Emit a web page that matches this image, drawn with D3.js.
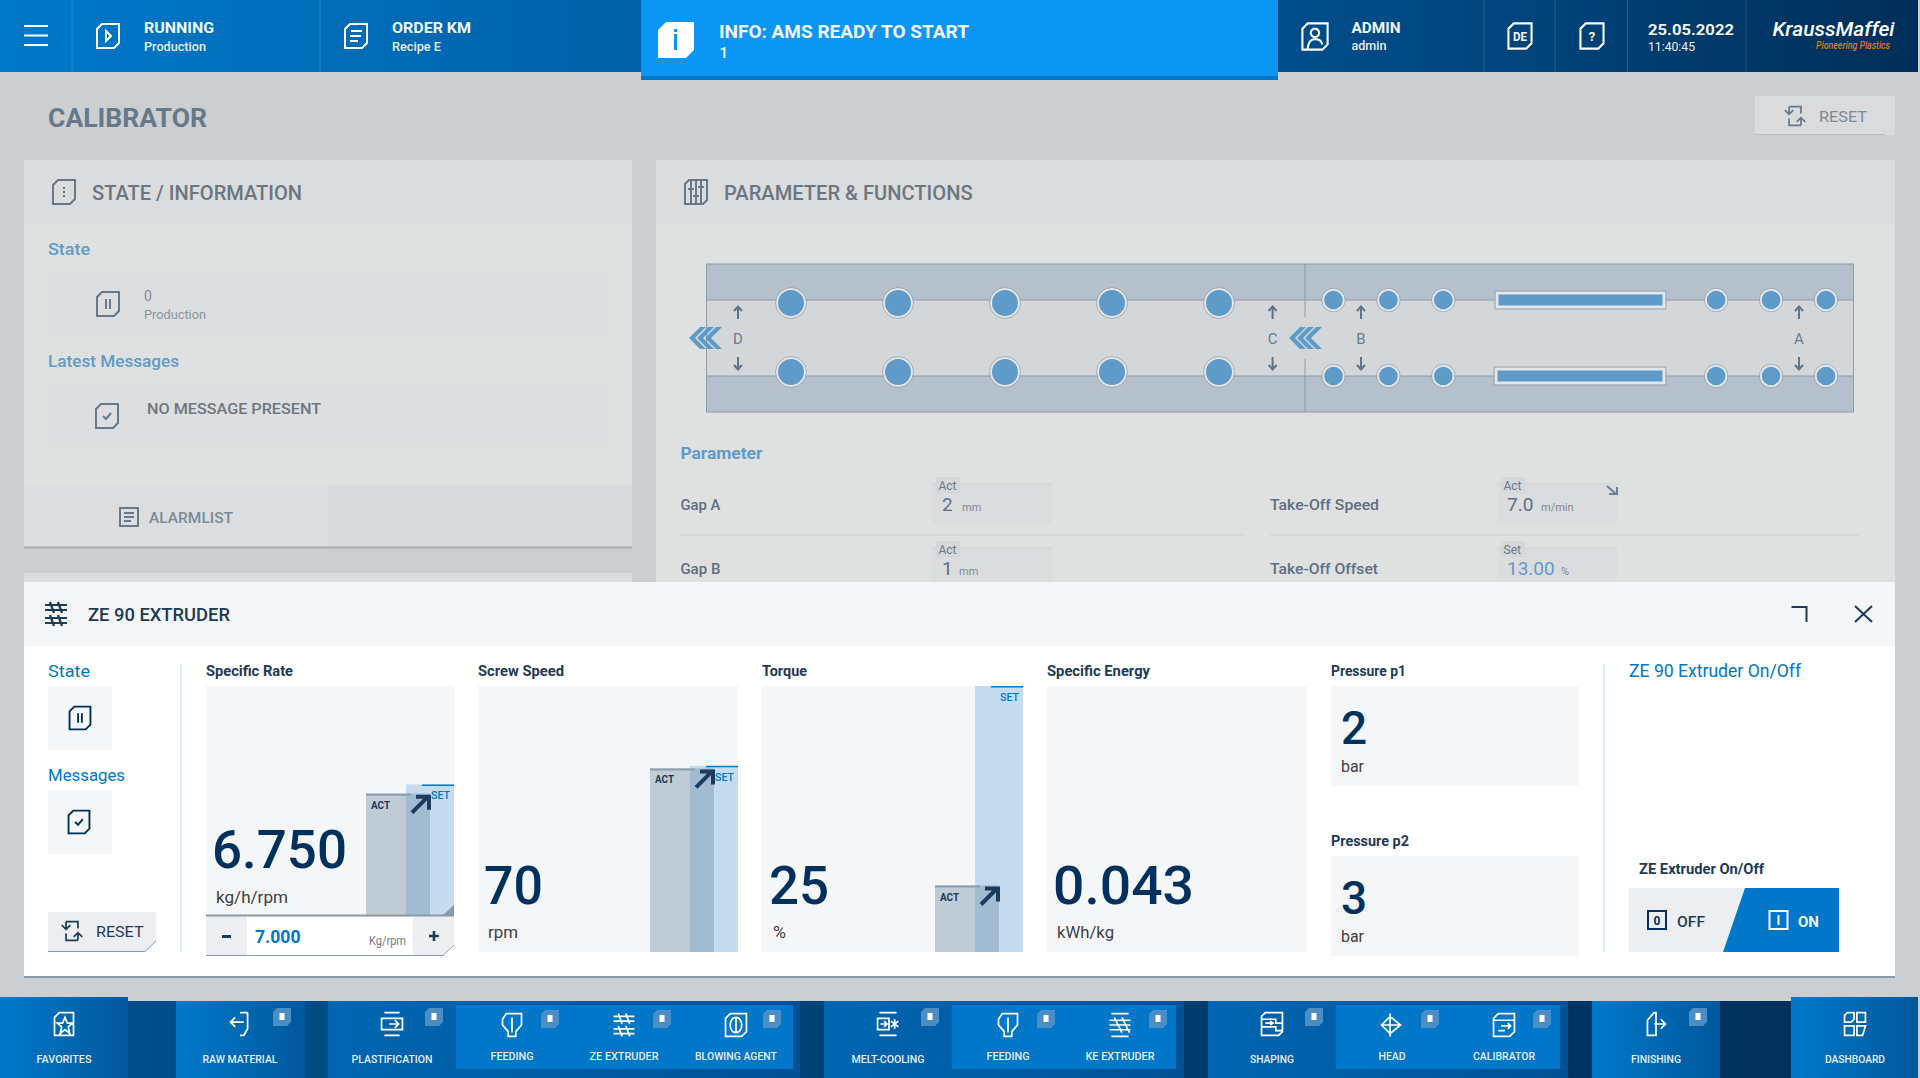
<!DOCTYPE html>
<html>
<head>
<meta charset="utf-8">
<title>Calibrator</title>
<script src="https://cdn.jsdelivr.net/npm/d3@7"></script>
<style>
  html, body { margin: 0; padding: 0; background: #cbcfd2; overflow: hidden; }
  text { font-family: Roboto, "Noto Sans", sans-serif; }
</style>
</head>
<body>
<script>
// values
var gaugeNames = ["Specific Rate", "Screw Speed", "Torque", "Specific Energy"];
var gaugeValues = ["6.750", "70", "25", "0.043"];
var gaugeUnits = ["kg/h/rpm", "rpm", "%", "kWh/kg"];
var gaugeAct = [53, 69, 25, null];   // bar height, % of scale
var gaugeSet = [57, 70, 100, null];
var pressureNames = ["Pressure p1", "Pressure p2"];
var pressureValues = ["2", "3"];
var pressureUnit = "bar";
var paramNames = ["Gap A", "Gap B", "Take-Off Speed", "Take-Off Offset"];
var paramKinds = ["Act", "Act", "Act", "Set"];
var paramValues = ["2", "1", "7.0", "13.00"];
var paramUnits = ["mm", "mm", "m/min", "%"];
var gapLabels = ["D", "C", "B", "A"];
var navLabels = ["FAVORITES", "RAW MATERIAL", "PLASTIFICATION", "FEEDING", "ZE EXTRUDER", "BLOWING AGENT", "MELT-COOLING",
  "FEEDING", "KE EXTRUDER", "SHAPING", "HEAD", "CALIBRATOR", "FINISHING", "DASHBOARD"];
var bigRollers = [0, 1, 2, 3, 4];
var smallRollers = [0, 1, 2, 6.97, 7.97, 8.97];

var BLUE = "#0077c8", NAVY = "#00315c", INK = "#1d3a56", DIM = "#66788a", DIMBLUE = "#5f9bc8";

var svg = d3.select("body").append("svg").attr("width", 1920).attr("height", 1078).style("display", "block");
var defs = svg.append("defs");

function gradient(id, stops) {
  var g = defs.append("linearGradient").attr("id", id);
  stops.forEach(function(s) { g.append("stop").attr("offset", s[0]).attr("stop-color", s[1]); });
}
gradient("topGrad", [[0, "#0079ca"], [0.33, "#0062a9"], [0.67, "#004e8b"], [0.8, "#00447a"], [1, "#002e58"]]);
gradient("navGrad", [[0, "#00508e"], [1, "#002f5a"]]);
gradient("btnGrad", [[0, "#0079ca"], [1, "#00589c"]]);
gradient("groupGrad", [[0, "#0066b2"], [1, "#005196"]]);

function rect(p, x, y, w, h, fill) {
  return p.append("rect").attr("x", x).attr("y", y).attr("width", w).attr("height", h).attr("fill", fill);
}
function line(p, x1, y1, x2, y2, stroke, sw) {
  return p.append("line").attr("x1", x1).attr("y1", y1).attr("x2", x2).attr("y2", y2).attr("stroke", stroke).attr("stroke-width", sw || 1);
}
function label(p, str, x, y, size, weight, fill, w, anchor) {
  var t = p.append("text").attr("x", x).attr("y", y).attr("font-size", size).attr("font-weight", weight).attr("fill", fill).text(str);
  if(w) t.attr("textLength", w).attr("lengthAdjust", "spacingAndGlyphs");
  if(anchor) t.attr("text-anchor", anchor);
  return t;
}
//doc shape with the two cut corners used by nearly all icons
function chamfer(x, y, w, h, c) {
  return "M" + (x + c) + "," + y + "H" + (x + w) + "V" + (y + h - c) + "L" + (x + w - c) + "," + (y + h) + "H" + x + "V" + (y + c) + "Z";
}

var iconPaths = {
  play: chamfer(-11, -12, 22, 24, 5) + "M-2,-5L3,0L-2,5Z",
  doc: chamfer(-11, -12, 22, 24, 5) + "M-5,-5H6M-6,0H5M-6,5H2",
  user: chamfer(-12, -12, 24, 25, 5) + "M0,-7a4,4 0 1,1 -0.1,0M-7,12C-6,4 -3,3 0,3C3,3 6,4 7,8",
  blank: chamfer(-11, -12, 22, 24, 5),
  dots: chamfer(-11, -12, 22, 24, 5) + "M0,-5V-3M0,-1V1M0,3V5",
  params: chamfer(-11, -12, 22, 24, 4) + "M-5,-12V12M0,-12V12M5,-12V12M-8,-3H-2M-3,4H3M2,-5H8",
  pause: chamfer(-11, -12, 22, 24, 5) + "M-2,-5V5M2,-5V5",
  check: chamfer(-11, -12, 22, 24, 5) + "M-4,0L-1,3L4,-3",
  list: "M-9,-9H9V9H-9ZM-5,-4H5M-5,0H5M-5,4H2",
  reset: "M-7,-11H7V-3M7,11H-7V3M-7,-11V-2M-12,-7L-7,-2L-2,-7M7,11V2M2,7L7,2L12,7",
  screws: "M-11,-9H11M-11,-4H11M-11,4H11M-11,9H11M-6,-12L-2,-1M2,-12L6,-1M-6,1L-2,12M2,1L6,12",
  star: "M-10,-7L-5,-12H10V12H-10ZM1,-7L3.5,-1H9L4.5,3L6,10L1,6L-4,10L-2.5,3L-7,-1H-1.5Z",
  raw: "M8,-12V5L4,12H0M8,-12H0M-10,-2H4M-5,-7L-10,-2L-5,3",
  plast: "M-8,-12H8M-8,12H8M-11,-6H11V6H-11ZM-3,0H7M3,-4L7,0L3,4",
  funnel: "M-6,-12H10V0L4,7V12H-4V7L-10,0V-6ZM0,-8V8",
  blow: chamfer(-11, -12, 22, 24, 5) + "M0,-8a6,8 0 1,1 -0.1,0M0,-8V8",
  melt: "M-9,-12H9M-9,12H9M-11,-6H1V6H-11ZM-8,0H-1M-4,-3L-1,0L-4,3M7,-5V5M3,-3L11,3M3,3L11,-3",
  ke: "M-9,-12H9M-9,12H9M-11,-5H11M-11,0H11M-11,5H11M-6,-8L2,8M2,-8L10,8",
  shaping: chamfer(-11, -12, 22, 24, 4) + "M-11,-5H4V-1H11M-11,3H4V7H11M-7,-1H1M-2,-3L1,-1L-2,1",
  head: "M-2,-12V12M-2,-9L-11,0L-2,9M-2,-9L9,0L-2,9M-11,0H9",
  calib: chamfer(-11, -12, 22, 24, 5) + "M-11,-5H11M-3,1H7M4,-2L7,1L4,4M-6,6H1",
  finish: "M-2,-12L-9,-4V12H0V-12ZM-2,0H10M5,-5L10,0L5,5",
  dash: chamfer(-11, -12, 10, 10, 3) + "M2,-12H11V-2H2ZM-11,2H-1V12H-11ZM2,2H11L8,12H2Z"
};
function icon(p, name, cx, cy, color, scale, sw) {
  return p.append("path").attr("d", iconPaths[name]).attr("fill", "none").attr("stroke", color)
    .attr("stroke-width", sw || 2).attr("transform", "translate(" + cx + "," + cy + ") scale(" + (scale || 1) + ")");
}

function drawTopBar() {
  var g = svg.append("g");
  rect(g, 0, 0, 1918, 72, "url(#topGrad)");
  //dividers between the header cells
  [72, 320, 1484, 1555, 1627.5, 1746].forEach(function(x) { line(g, x, 0, x, 72, "#fff", 1).attr("opacity", 0.14); });
  [26, 35.5, 45].forEach(function(y) { line(g, 24, y, 48, y, "#fff", 2); });

  icon(g, "play", 108, 36, "#fff", 1, 2);
  label(g, "RUNNING", 144, 33, 15, 700, "#f2f6fa", 70);
  label(g, "Production", 144, 51, 13, 500, "#e8eef5", 62);
  icon(g, "doc", 356, 36, "#fff", 1, 2);
  label(g, "ORDER KM", 392, 33, 15, 700, "#f2f6fa", 79);
  label(g, "Recipe E", 392, 51, 13, 500, "#e8eef5", 49);

  //info banner hangs below the bar
  rect(g, 641, 0, 637, 80, "#0c96f3");
  rect(g, 641, 76, 637, 4, "#0077c8");
  g.append("path").attr("d", chamfer(658, 22, 36, 36, 8)).attr("fill", "#fff");
  rect(g, 674, 34, 3, 16, "#0c96f3");
  rect(g, 674, 29, 3, 3, "#0c96f3");
  label(g, "INFO: AMS READY TO START", 719, 38, 18, 700, "#f2f8fd", 250);
  label(g, "1", 719.5, 58, 15, 500, "#f2f8fd");

  icon(g, "user", 1315, 36, "#fff", 1.05, 2);
  label(g, "ADMIN", 1351.5, 33, 15, 700, "#f2f6fa", 49);
  label(g, "admin", 1351.5, 50, 13, 500, "#e8eef5", 35);
  icon(g, "blank", 1520, 36, "#fff", 1.05, 2);
  label(g, "DE", 1520, 41, 12, 700, "#fff", 14, "middle");
  icon(g, "blank", 1592, 36, "#fff", 1.05, 2);
  label(g, "?", 1592, 41, 13, 700, "#fff", null, "middle");
  label(g, "25.05.2022", 1648, 35, 15, 700, "#f2f6fa", 86);
  label(g, "11:40:45", 1648, 51, 12.5, 400, "#e8eef5", 47);
  label(g, "KraussMaffei", 1772.5, 36, 20, 500, "#fff", 122).attr("font-style", "italic");
  label(g, "Pioneering Plastics", 1816, 49, 10.5, 500, "#e07b00", 74).attr("font-style", "italic");
}

function drawPage() {
  var g = svg.append("g");
  label(g, "CALIBRATOR", 48, 127, 26, 700, DIM, 159);

  rect(g, 1755, 96, 140, 39, "#d9dbdd");
  line(g, 1755, 134.5, 1885, 134.5, "#b6bdc4", 1);
  icon(g, "reset", 1795, 116, DIM, 0.85, 2);
  label(g, "RESET", 1819, 122, 15, 400, "#7b8a99", 48);

  //left panel
  rect(g, 24, 160, 608, 388, "#dfe0e0");
  rect(g, 24, 160, 608, 64, "#dadcde");
  icon(g, "dots", 64, 192, DIM, 1, 2);
  label(g, "STATE / INFORMATION", 92, 200, 20, 500, "#6c7680", 210);
  label(g, "State", 48, 255, 17, 500, DIMBLUE, 42);
  rect(g, 48, 272, 560, 64, "#dcdedf");
  icon(g, "pause", 108, 304, DIM, 1, 2);
  label(g, "0", 144, 301, 14, 400, "#7f8b96");
  label(g, "Production", 144, 319, 13, 400, "#8a949e", 62);
  label(g, "Latest Messages", 48, 367, 17, 500, DIMBLUE, 131);
  rect(g, 48, 384, 560, 63, "#dcdedf");
  icon(g, "check", 107, 416, DIM, 1, 2);
  label(g, "NO MESSAGE PRESENT", 147, 414, 15, 500, "#6c7680", 174);
  rect(g, 24, 485, 608, 63, "#d8dadc");
  rect(g, 24, 485, 304, 63, "#dcddde");
  line(g, 24, 547.5, 632, 547.5, "#a5adb5", 2);
  icon(g, "list", 129, 517, DIM, 1, 2);
  label(g, "ALARMLIST", 149, 523, 14, 500, "#7b8a99", 84);
  rect(g, 24, 573, 608, 12, "#dadcde");

  //right panel
  rect(g, 656, 160, 1239, 430, "#dfe0e0");
  rect(g, 656, 160, 1239, 64, "#dadcde");
  icon(g, "params", 696, 192, DIM, 1, 2);
  label(g, "PARAMETER & FUNCTIONS", 724, 200, 20, 500, "#6c7680", 248.6);

  drawCalibrator(g);
  drawParams(g);
}

function drawCalibrator(p) {
  var g = p.append("g");
  var LINE = "#8e9ba8", ROLL = DIMBLUE;
  rect(g, 706.5, 264, 1147, 148, "#b4c0cc").attr("stroke", LINE).attr("stroke-width", 1);
  rect(g, 707, 300, 1146, 76, "#d3d7da");
  line(g, 707, 300, 1853, 300, LINE);
  line(g, 707, 376, 1853, 376, LINE);
  line(g, 1305, 264, 1305, 317, LINE);
  line(g, 1305, 359, 1305, 412, LINE);

  var xBig = d3.scaleLinear().domain([0, 4]).range([791, 1219]);
  var xSmall = d3.scaleLinear().domain([0, 1]).range([1333.5, 1388.4]);

  function rollers(data, x, ys, r) {
    ys.forEach(function(y) {
      g.selectAll(null).data(data).enter().append("circle")
        .attr("cx", x).attr("cy", y).attr("r", r - 1.5)
        .attr("fill", ROLL).attr("stroke", "#e4e6e8").attr("stroke-width", 2);
      g.selectAll(null).data(data).enter().append("circle")
        .attr("cx", x).attr("cy", y).attr("r", r)
        .attr("fill", "none").attr("stroke", "#9aa5af").attr("stroke-width", 0.8);
    });
  }
  rollers(bigRollers, xBig, [303, 372], 15.5);
  rollers(smallRollers, xSmall, [300, 376], 11.8);

  [[1497, 293, 167], [1496, 369, 168]].forEach(function(b) {
    rect(g, b[0], b[1], b[2], 14, ROLL).attr("stroke", "#e4e6e8").attr("stroke-width", 3);
    rect(g, b[0] - 2, b[1] - 2, b[2] + 4, 18, "none").attr("stroke", "#98a4b0").attr("stroke-width", 1);
  });

  //flow direction chevrons
  [689, 1289].forEach(function(x0) {
    [0, 8, 16].forEach(function(dx) {
      var x = x0 + dx;
      g.append("path").attr("d", "M" + (x + 11) + ",327H" + (x + 17) + "L" + (x + 6) + ",338L" + (x + 17) + ",349H" + (x + 11) + "L" + x + ",338Z")
        .attr("fill", ROLL);
    });
  });

  var gapX = d3.scaleOrdinal().domain(gapLabels).range([738, 1272.6, 1361, 1799]);
  gapLabels.forEach(function(d) {
    var x = gapX(d);
    var a = "M" + x + ",319V307M" + (x - 4) + ",311L" + x + ",306.5L" + (x + 4) + ",311";
    var b = "M" + x + ",357V369M" + (x - 4) + ",365L" + x + ",369.5L" + (x + 4) + ",365";
    g.append("path").attr("d", a + b).attr("fill", "none").attr("stroke", "#5f7488").attr("stroke-width", 2);
    label(g, d, x, 344, 15, 400, "#6a7d8f", null, "middle");
  });
}

function drawParams(p) {
  var g = p.append("g");
  label(g, "Parameter", 680.4, 459, 17, 700, DIMBLUE, 82);
  var nameW = [40, 40, 109, 108];
  paramNames.forEach(function(name, i) {
    var col = i < 2 ? 0 : 1, row = i % 2;
    var y = row * 64;
    var nameX = col ? 1270 : 680.4, fx = col ? 1497 : 932;
    label(g, name, nameX, 510 + y, 15, 500, "#5d6f80", nameW[i]);
    rect(g, fx, 484 + y, 120, 39, "#dbdcde");
    line(g, fx, 484 + y, fx + 120, 484 + y, "#d0d3d6", 1);
    rect(g, fx + 4, 477 + y, 24, 16, "#d5d8da");
    label(g, paramKinds[i], fx + 6.5, 490 + y, 12, 400, "#6a7a8a");
    var isSet = paramKinds[i] == "Set";
    label(g, paramValues[i], fx + 10, 511 + y, 19, 400, isSet ? DIMBLUE : "#5d6f80");
    var unitX = [962, 959, 1541, 1561][i];
    label(g, paramUnits[i], unitX, 511 + y, 11, 400, "#7f8a95");
  });
  line(g, 680, 535, 1246, 535, "#d3d6d8", 1.5);
  line(g, 1270, 535, 1859, 535, "#d3d6d8", 1.5);
  g.append("path").attr("d", "M1607,486L1616,494M1609,494H1617V487").attr("fill", "none").attr("stroke", "#6d8093").attr("stroke-width", 2);
}

function drawGauge(p, i, box) {
  var g = p.append("g");
  label(g, gaugeNames[i], box.x, 676, 14.5, 700, INK, box.titleW);
  rect(g, box.x, 686, box.w, box.bottom == 915 ? 229 : 266, "#f5f6f8");
  if(gaugeAct[i] != null) {
    var y = d3.scaleLinear().domain([0, 100]).range([box.bottom, 686]);
    var right = box.x + box.w;
    var actL = right - 88, setL = right - 48;
    var actTop = y(gaugeAct[i]), setTop = y(gaugeSet[i]);
    rect(g, setL, setTop, 48, box.bottom - setTop, "#c5dcef");
    rect(g, actL, actTop, 64, box.bottom - actTop, "#c0ccd5");
    var overlapTop = Math.max(actTop, setTop);
    rect(g, setL, overlapTop, 24, box.bottom - overlapTop, "#a1bbd0");
    rect(g, actL, actTop, 45, 2, "#8b9cac");
    rect(g, right - 32, setTop, 32, 1.5, BLUE);
    label(g, "ACT", actL + 5, actTop + 15, 11, 700, INK, 19);
    label(g, "SET", right - 23, setTop + 15, 11, 500, BLUE, 19);
    var ax = actL + 44, ay = actTop + 1;
    g.append("path").attr("d", "M" + (ax + 2) + "," + (ay + 18) + "L" + (ax + 17) + "," + (ay + 3) + "M" + (ax + 6) + "," + (ay + 2) + "H" + (ax + 19) + "V" + (ay + 15))
      .attr("fill", "none").attr("stroke", "#1d3a5f").attr("stroke-width", 4);
  }
  label(g, gaugeValues[i], box.x + box.vx, box.valueY, 53, 500, NAVY, box.valueW);
  label(g, gaugeUnits[i], box.x + box.ux, box.unitY, 17, 400, "#3f3f42", box.unitW);
}

function drawPopup() {
  var g = svg.append("g");
  rect(g, 24, 582, 1871, 396, "#fff");
  rect(g, 24, 582, 1871, 64, "#f5f6f8");
  rect(g, 24, 976, 1871, 2, "#8a9aa8");
  icon(g, "screws", 56, 614, INK, 1, 2.2);
  label(g, "ZE 90 EXTRUDER", 88, 621, 18, 500, INK, 142);
  g.append("path").attr("d", "M1791.5,607H1806.5V622").attr("fill", "none").attr("stroke", INK).attr("stroke-width", 2);
  g.append("path").attr("d", "M1855,606L1872,622M1872,606L1855,622").attr("fill", "none").attr("stroke", INK).attr("stroke-width", 2);

  label(g, "State", 48, 677, 16, 400, BLUE, 42);
  rect(g, 48, 686, 64, 64, "#f5f6f8");
  icon(g, "pause", 80, 718, NAVY, 0.95, 2);
  label(g, "Messages", 48, 781, 16, 400, BLUE, 77);
  rect(g, 48, 790, 64, 64, "#f5f6f8");
  icon(g, "check", 79, 822, NAVY, 0.95, 2);
  g.append("path").attr("d", "M48,912H156V941L145,952H48Z").attr("fill", "#eceef2");
  g.append("path").attr("d", "M48,951.5H145L156,941").attr("fill", "none").attr("stroke", "#8a9aa8").attr("stroke-width", 1);
  icon(g, "reset", 72, 931, INK, 0.85, 2);
  label(g, "RESET", 96, 937, 15, 400, INK, 47.5);
  rect(g, 180, 664, 2, 288, "#dcebf6");
  rect(g, 1603, 664, 2, 288, "#dcebf6");

  var boxes = [
    { x: 206, w: 248, bottom: 915, titleW: 87, vx: 6, valueY: 868, valueW: 135, ux: 10, unitY: 903, unitW: 72 },
    { x: 478, w: 260, bottom: 952, titleW: 86, vx: 6, valueY: 904, valueW: 59, ux: 10, unitY: 938, unitW: 30 },
    { x: 762, w: 261, bottom: 952, titleW: 45, vx: 7, valueY: 904, valueW: 60, ux: 11, unitY: 938, unitW: 13 },
    { x: 1047, w: 260, bottom: 952, titleW: 103, vx: 6, valueY: 904, valueW: 141, ux: 10, unitY: 938, unitW: 57 }
  ];
  gaugeNames.forEach(function(d, i) { drawGauge(g, i, boxes[i]); });

  //small triangle + stepper under specific rate
  g.append("path").attr("d", "M443,915L454,905V915Z").attr("fill", "#8a9aa8");
  g.append("path").attr("d", "M206,915H454V944L443,955H206Z").attr("fill", "#eceef2");
  rect(g, 247, 917, 166, 38, "#fff");
  rect(g, 206, 914.5, 248, 2, "#8a9aa8");
  g.append("path").attr("d", "M206,955.5H443L454,945").attr("fill", "none").attr("stroke", "#8a9aa8").attr("stroke-width", 1);
  rect(g, 222, 935, 9, 3, INK);
  g.append("path").attr("d", "M429,936H439M434,931V941").attr("stroke", INK).attr("stroke-width", 2.6);
  label(g, "7.000", 255, 943, 19, 700, BLUE, 45.5);
  label(g, "Kg/rpm", 369, 945, 12, 400, "#777c82", 37);

  var pY = [0, 170];
  pressureNames.forEach(function(d, i) {
    var dy = pY[i];
    label(g, d, 1331, 676 + dy, 14.5, 700, INK, i ? 78 : 75);
    rect(g, 1331, 686 + dy, 248, 100, "#f5f6f8");
    label(g, pressureValues[i], 1341, 744 + dy, 46, 500, NAVY);
    label(g, pressureUnit, 1341, 772 + dy, 17, 400, "#3f3f42", 23);
  });

  label(g, "ZE 90 Extruder On/Off", 1629, 677, 17.5, 400, BLUE, 172);
  label(g, "ZE Extruder On/Off", 1639, 874, 15, 700, INK, 125);
  rect(g, 1629, 888, 210, 64, "#eceef2");
  g.append("path").attr("d", "M1745,888H1839V952H1723Z").attr("fill", BLUE);
  rect(g, 1648, 911, 18, 18, "none").attr("stroke", NAVY).attr("stroke-width", 2);
  label(g, "0", 1657, 925, 12, 700, NAVY, null, "middle");
  label(g, "OFF", 1677, 927, 15, 500, INK, 28);
  rect(g, 1769.5, 911, 18, 18, "none").attr("stroke", "#fff").attr("stroke-width", 2);
  rect(g, 1777.5, 915, 2, 10, "#fff");
  label(g, "ON", 1798, 927, 15, 700, "#eaf3fb", 21);
}

function drawNav() {
  var g = svg.append("g");
  rect(g, 0, 1001, 1918, 77, "url(#navGrad)");
  //top level buttons and grouped buttons
  [[176, 129], [1592, 128]].forEach(function(b) { rect(g, b[0], 1001, b[1], 77, "url(#btnGrad)"); });
  [[0, 128], [1791, 127]].forEach(function(b) { rect(g, b[0], 997, b[1], 81, "url(#btnGrad)"); });
  [[328, 472], [824, 360], [1208, 360]].forEach(function(b) { rect(g, b[0], 1001, b[1], 77, "url(#groupGrad)"); });
  [[456, 337], [952, 224], [1336, 224]].forEach(function(b) { rect(g, b[0], 1005, b[1], 64, BLUE); });

  var navX = [64, 240, 392, 512, 624, 736, 888, 1008, 1120, 1272, 1392, 1504, 1656, 1855];
  var navW = [55, 75, 81, 43, 69, 82, 73, 43, 69, 44, 27, 62, 50, 60];
  var navIcon = ["star", "raw", "plast", "funnel", "screws", "blow", "melt", "funnel", "ke", "shaping", "head", "calib", "finish", "dash"];
  var badgeX = [null, 273, 425, 541, 653, 763, 921, 1037, 1149, 1305, 1421, 1533, 1689, null];
  var isSub = [0, 0, 0, 1, 1, 1, 0, 1, 1, 0, 1, 1, 0, 0];

  navLabels.forEach(function(d, i) {
    var base = isSub[i] ? 1060 : 1063;
    label(g, d, navX[i], base, 10.5, 500, "#e6edf4", navW[i], "middle");
    icon(g, navIcon[i], navX[i], isSub[i] ? 1025 : 1024, "#fff", 0.95, 1.8);
    if(badgeX[i] != null) {
      var by = isSub[i] ? 1010 : 1008;
      g.append("path").attr("d", chamfer(badgeX[i], by, 18, 18, 4)).attr("fill", "#4c8dc6");
      rect(g, badgeX[i] + 6.5, by + 5, 5, 7, "#fff");
    }
  });
}

drawTopBar();
drawPage();
drawPopup();
drawNav();
</script>
</body>
</html>
